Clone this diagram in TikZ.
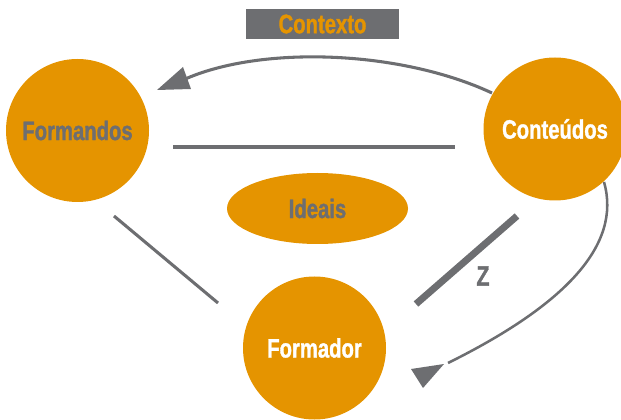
\documentclass[tikz,border=0pt]{standalone}
\usepackage{fontspec}
\setmainfont{Liberation Sans}[FakeStretch=0.76,BoldFeatures={FakeBold=1.2}]
\usetikzlibrary{shapes.geometric}
\definecolor{orng}{RGB}{229,148,0}
\definecolor{gry}{RGB}{109,110,113}
\begin{document}
\begin{tikzpicture}[x=0.75pt,y=-0.75pt,
  bubble/.style={circle,fill=orng,minimum size=143*0.75pt,inner sep=0pt,font=\fontsize{20}{21}\selectfont\bfseries},
  link/.style={draw=gry,line width=2.3pt},
  tip/.style={fill=gry,draw=none},
  lbl/.style={font=\fontsize{20}{21}\selectfont\bfseries}]
\useasboundingbox (0,0) rectangle (621,420);
% title box
\node[fill=gry,minimum width=153*0.75pt,minimum height=30*0.75pt,inner sep=0pt,text=orng,lbl] (ctx) at (322.5,24) {Contexto};
% nodes
\node[bubble,text=gry] (fos) at (77.5,130.5) {Formandos};
\node[bubble,text=white] (con) at (555,129) {Conteúdos};
\node[bubble,text=white] (fod) at (314.5,348) {Formador};
\node[ellipse,fill=orng,minimum width=181*0.75pt,minimum height=71*0.75pt,inner sep=0pt,text=gry,lbl] (ide) at (317.5,208.5) {Ideais};
% coordinates
\coordinate (h1) at (173,147);
\coordinate (h2) at (455,147);
\coordinate (d1) at (114,216);
\coordinate (d2) at (218,303);
\coordinate (z1) at (517,216);
\coordinate (z2) at (416,304);
\coordinate (arcA) at (492,93);
\coordinate (arcB) at (183,80);
\coordinate (rcA) at (604,182);
\coordinate (rcB) at (448,363);
% connectors
\draw[link] (h1) -- (h2);
\draw[link] (d1) -- (d2);
\draw[draw=gry,line width=5.2pt] (z1) -- (z2);
\node[text=gry,font=\fontsize{21}{22}\selectfont\bfseries] (zl) at (483,276) {Z};
\draw[link] (arcA) .. controls (400,50) and (260,45) .. (arcB);
\fill[tip] (157,90) -- (183,67) -- (191,89) -- cycle;
\draw[draw=gry,line width=1.9pt] (rcA) .. controls (622,245) and (565,305) .. (rcB);
\fill[tip] (411,369) -- (444,364) -- (423,388) -- cycle;
\end{tikzpicture}
\end{document}
